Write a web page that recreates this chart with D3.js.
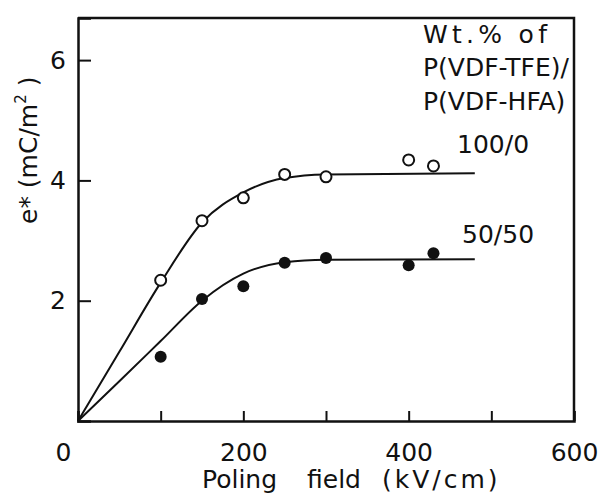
<!DOCTYPE html>
<html>
<head>
<meta charset="utf-8">
<script src="https://cdn.jsdelivr.net/npm/d3@7"></script>
<style>
  body { margin: 0; background: #fff; }
  svg text { font-family: "DejaVu Sans", sans-serif; fill: #111; white-space: pre; }
</style>
</head>
<body>
<svg id="chart" width="603" height="497"></svg>
<script>
  // measured points (kV/cm, mC/m2)
  const fieldOpen = [100, 150, 200, 250, 300, 400, 430];
  const eOpen = [2.34, 3.33, 3.71, 4.10, 4.06, 4.34, 4.24];
  const fieldFilled = [100, 150, 200, 250, 300, 400, 430];
  const eFilled = [1.07, 2.03, 2.24, 2.63, 2.71, 2.59, 2.79];

  // fitted curves as drawn
  const curveOpenX = [0, 50, 100, 150, 200, 250, 300, 480];
  const curveOpenY = [0, 1.15, 2.3, 3.3, 3.8, 4.04, 4.1, 4.12];
  const curveFilledX = [0, 50, 100, 150, 200, 250, 300, 480];
  const curveFilledY = [0, 0.66, 1.33, 2.0, 2.45, 2.64, 2.68, 2.69];

  const xTicks = [0, 100, 200, 300, 400, 500, 600];
  const xLabels = [0, 200, 400, 600];
  const yTicks = [2, 4, 6];
  const legendLines = ['Wt.% of', 'P(VDF-TFE)/', 'P(VDF-HFA)'];
  const seriesLabels = ['100/0', '50/50'];

  const svg = d3.select('#chart');
  const mLeft = 78, mRight = 574, mTop = 18, mBottom = 421;

  const x = d3.scaleLinear().domain([0, 600]).range([mLeft, mRight]);
  const y = d3.scaleLinear().domain([0, 6.7]).range([mBottom, mTop]);

  //frame
  svg.append('path')
    .attr('d', `M${mLeft},${mTop}H${mRight}V${mBottom}`)
    .attr('fill', 'none').attr('stroke', '#111').attr('stroke-width', 2.5);

  //x axis
  const xAxis = d3.axisBottom(x)
    .tickValues(xTicks)
    .tickSize(-10)
    .tickPadding(22)
    .tickFormat(d => xLabels.includes(d) ? d : '');
  const xg = svg.append('g').attr('transform', `translate(0,${mBottom})`).call(xAxis);
  xg.select('.domain').attr('stroke', '#111').attr('stroke-width', 2.5);
  xg.selectAll('.tick line').attr('stroke', '#111').attr('stroke-width', 2);
  xg.selectAll('.tick text').attr('font-size', 25).attr('font-family', null).attr('fill', '#111');
  xg.selectAll('.tick').filter(d => d === 0).select('text').attr('dx', -15);

  //y axis
  const yAxis = d3.axisLeft(y)
    .tickValues(yTicks)
    .tickSize(-13)
    .tickPadding(12)
    .tickFormat(d3.format('d'));
  const yg = svg.append('g').attr('transform', `translate(${mLeft},0)`).call(yAxis);
  yg.select('.domain').attr('stroke', '#111').attr('stroke-width', 2.5);
  yg.selectAll('.tick line').attr('stroke', '#111').attr('stroke-width', 2);
  yg.selectAll('.tick text').attr('font-size', 25).attr('font-family', null).attr('fill', '#111');

  //axis labels
  const xl = svg.append('text').attr('y', 488).attr('font-size', 25);
  xl.append('tspan').attr('x', 202).text('Poling');
  xl.append('tspan').attr('x', 307).text('field');
  xl.append('tspan').attr('x', 382).attr('letter-spacing', 3).text('(kV/cm)');

  const yl = svg.append('text')
    .attr('transform', 'translate(37,224) rotate(-90)')
    .attr('font-size', 25);
  yl.append('tspan').text('e* (mC/m');
  yl.append('tspan').attr('font-size', 15).attr('dy', -11).text('2');
  yl.append('tspan').attr('dy', 11).text(' )');

  //curves
  const line = d3.line()
    .x(d => x(d[0]))
    .y(d => y(d[1]))
    .curve(d3.curveMonotoneX);

  const curves = [
    d3.zip(curveOpenX, curveOpenY),
    d3.zip(curveFilledX, curveFilledY)
  ];
  svg.selectAll('.fit').data(curves).enter().append('path')
    .attr('class', 'fit')
    .attr('d', line)
    .attr('fill', 'none').attr('stroke', '#111').attr('stroke-width', 2);

  //points
  svg.selectAll('.open').data(d3.zip(fieldOpen, eOpen)).enter().append('circle')
    .attr('class', 'open')
    .attr('cx', d => x(d[0])).attr('cy', d => y(d[1]))
    .attr('r', 5.5)
    .attr('fill', '#fff').attr('stroke', '#111').attr('stroke-width', 2);

  svg.selectAll('.filled').data(d3.zip(fieldFilled, eFilled)).enter().append('circle')
    .attr('class', 'filled')
    .attr('cx', d => x(d[0])).attr('cy', d => y(d[1]))
    .attr('r', 6)
    .attr('fill', '#111');

  //legend
  svg.selectAll('.legend').data(legendLines).enter().append('text')
    .attr('class', 'legend')
    .attr('x', 423)
    .attr('y', (d, i) => [43, 76, 110][i])
    .attr('font-size', 25)
    .each(function (d, i) {
      if (i === 0) d3.select(this).attr('textLength', 124).attr('lengthAdjust', 'spacing');
    })
    .text(d => d);

  svg.selectAll('.slabel').data(seriesLabels).enter().append('text')
    .attr('class', 'slabel')
    .attr('x', (d, i) => [457, 462][i])
    .attr('y', (d, i) => [153, 243][i])
    .attr('font-size', 25)
    .text(d => d);
</script>
</body>
</html>
